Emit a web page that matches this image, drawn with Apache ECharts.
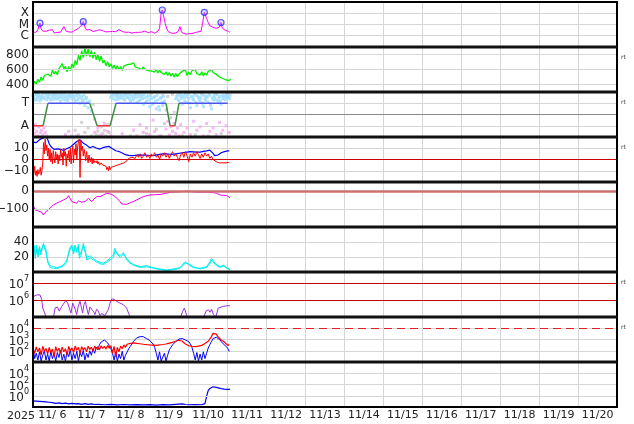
<!DOCTYPE html>
<html><head><meta charset="utf-8">
<script src="https://cdn.jsdelivr.net/npm/echarts@6/dist/echarts.min.js"></script>
<style>html,body{margin:0;padding:0;background:#fff}#c{width:634px;height:424px}</style>
</head><body><div id="c"></div><script>
// x values: hours since 2025-11-06 00:00 UT; axis spans 15 days
const yearLabel = '2025';
const dayLabels = ['11/ 6','11/ 7','11/ 8','11/ 9','11/10','11/11','11/12','11/13','11/14','11/15','11/16','11/17','11/18','11/19','11/20'];
const xrayTicks = [[1e-4,'X'],[1e-5,'M'],[1e-6,'C']];
const speedTicks = [[800,'800'],[600,'600'],[400,'400']];
const sectorTicks = [[1,'T'],[-1,'A']];
const imfTicks = [[10,'10'],[0,'0'],[-10,'\u221210']];
const dstTicks = [[0,'0'],[-100,'\u2212100']];
const p6Ticks = [[40,'40'],[20,'20']];
const p7Exps = [7,6];
const p8Exps = [4,3,2];
const p9Exps = [4,2,0];

// Panel 1: X-ray flux [hour, W/m2]
const xray = [[0,2.0e-6],[1,2.4e-6],[2,2.1e-6],[3,3.5e-6],[3.8,8e-6],[4.3,1.3e-5],[5,4e-6],[6,2.6e-6],[7,3.8e-6],[8,2.5e-6],[9,2.2e-6],[10,3.2e-6],[11,2.6e-6],[12,3.4e-6],[13,1.8e-6],[14,2.3e-6],[15,2.0e-6],[16,2.4e-6],[17,2.1e-6],[18,3.0e-6],[19,6.5e-6],[19.7,7.4e-6],[20.5,2.5e-6],[22,2.2e-6],[23,2.6e-6],[24,2.1e-6],[25,2.9e-6],[26,3.2e-6],[27,3.8e-6],[28,4.5e-6],[29,6.5e-6],[30,9e-6],[31,1.8e-5],[32,6e-6],[33,3.2e-6],[34,4.5e-6],[35,3.6e-6],[36,2.6e-6],[37,2.4e-6],[38,3.3e-6],[39,2.8e-6],[40,3.1e-6],[41,3.4e-6],[42,2.5e-6],[43,2.8e-6],[44,2.3e-6],[45,2.2e-6],[46,2.7e-6],[47,2.3e-6],[48,2.5e-6],[49,2.4e-6],[50,2.8e-6],[51,2.3e-6],[52,3.2e-6],[53,3.5e-6],[54,2.6e-6],[55,2.4e-6],[56,2.2e-6],[57,2.0e-6],[58,2.5e-6],[59,2.1e-6],[60,1.9e-6],[61,1.7e-6],[62,1.6e-6],[63,2.0e-6],[64,2.3e-6],[65,2.0e-6],[66,2.4e-6],[67,2.1e-6],[68,2.0e-6],[69,2.6e-6],[70,2.2e-6],[71,1.9e-6],[72,2.1e-6],[73,2.3e-6],[74,1.8e-6],[75,1.7e-6],[76,1.6e-6],[77,2.5e-6],[78,4.5e-6],[79,1.0e-4],[79.7,1.95e-4],[80.5,6e-5],[81.5,1.2e-5],[82.5,4e-6],[83.5,2.2e-6],[85,1.8e-6],[86.5,1.6e-6],[88,1.8e-6],[89.5,2.4e-6],[90.6,6.5e-6],[91.6,2.0e-6],[93,1.6e-6],[94.7,1.4e-6],[96,1.5e-6],[98,1.6e-6],[100,1.9e-6],[102,2.3e-6],[103.5,2.4e-6],[104.5,1.2e-5],[105.6,1.2e-4],[107,3.5e-5],[108,1.5e-5],[109,8e-6],[110,6.5e-6],[111,5.5e-6],[112,5e-6],[113,4.5e-6],[114,4.2e-6],[115,6e-6],[115.9,1.5e-5],[116.6,5e-6],[117.3,4.6e-6],[118.5,3e-6],[119.4,2.3e-6],[120.5,2.5e-6],[121.4,2.0e-6]];
const flares = [[4.3,1.3e-5],[31,1.8e-5],[79.7,1.95e-4],[105.6,1.2e-4],[115.9,1.5e-5]];

// Panel 2: solar wind speed, hourly from hour 0
const speed = [390,440,410,470,430,500,455,520,500,540,545,510,595,540,575,530,610,590,680,610,640,570,640,585,675,625,720,665,790,720,850,760,880,780,870,770,850,750,830,730,800,710,780,690,720,650,705,635,675,615,660,605,650,595,640,585,645,625,665,650,670,660,690,635,655,620,640,600,635,600,615,585,610,580,600,565,600,555,590,560,575,535,570,520,560,510,550,500,545,505,540,525,575,560,595,520,565,530,585,570,600,545,560,525,570,515,555,525,575,560,600,560,575,535,545,500,520,480,500,460,480,455,475];

// Panel 3: IMF sector (T=+1, A=-1)
const sectorLine = [[0,-1],[6.2,-1],[9.2,1],[35,1],[39.5,-1],[47.5,-1],[51.2,1],[82,1],[84.5,-1],[87.5,-1],[90,1],[120,1]];
const sectorT = [[0.5,1.6],[1.2,1.3],[2,1.8],[2.8,1.5],[3.5,1.7],[4.3,1.2],[5,1.6],[6,1.9],[7,1.4],[8,1.7],[9,1.5],[10,1.8],[11,1.3],[12,1.6],[13,1.9],[14,1.4],[15,1.7],[16,1.5],[17,1.2],[18,1.8],[19,1.6],[20,1.3],[21,1.7],[22,1.5],[23,1.9],[24,1.4],[25,1.6],[26,1.2],[27,1.8],[28,1.5],[29,1.0],[30,1.6],[31,1.3],[32,0.8],[33,1.5],[34,0.6],[35,1.2],[36,0.3],[48,1.5],[50,1.7],[51,1.3],[52,1.8],[53,1.5],[54,1.6],[55,1.9],[56,1.4],[57,1.7],[58,1.5],[59,1.8],[60,1.2],[61,1.6],[62,1.4],[63,1.8],[64,1.1],[65,1.6],[66,1.3],[67,1.7],[68,0.9],[69,1.5],[70,1.2],[71,1.7],[72,0.7],[73,1.4],[74,1.0],[75,1.6],[76,0.5],[77,1.3],[78,0.4],[79,1.5],[80,0.8],[81,1.2],[88,1.4],[89,1.7],[90,1.2],[91,1.6],[92,0.9],[93,1.5],[94,1.8],[95,1.1],[96,1.4],[97,0.6],[98,1.6],[99,1.3],[100,1.7],[101,0.8],[102,1.5],[103,1.2],[104,1.8],[105,0.7],[106,1.4],[107,1.6],[108,1.1],[109,1.7],[110,0.5],[111,1.3],[112,1.5],[113,1.8],[114,1.2],[115,1.6],[116,0.9],[117,1.4],[118,1.7],[119,1.5],[120,1.6],[121,1.4]];
const sectorT2 = [[0.8,1.4],[1.6,1.75],[2.4,1.3],[3.2,1.85],[4,1.55],[4.8,1.35],[5.6,1.75],[6.5,1.5],[7.5,1.85],[8.5,1.3],[9.5,1.65],[10.5,1.45],[11.5,1.8],[12.5,1.35],[13.5,1.6],[14.5,1.85],[15.5,1.4],[16.5,1.7],[17.5,1.55],[18.5,1.35],[19.5,1.85],[20.5,1.5],[21.5,1.25],[22.5,1.7],[23.5,1.6],[24.5,1.85],[25.5,1.4],[26.5,1.65],[27.5,1.3],[28.5,1.75],[29.5,1.45],[30.5,1.2],[31.5,1.7],[32.5,1.4],[33.5,1.1],[48.5,1.7],[49.5,1.4],[50.5,1.85],[51.5,1.6],[52.5,1.35],[53.5,1.8],[54.5,1.45],[55.5,1.7],[56.5,1.3],[57.5,1.85],[58.5,1.55],[59.5,1.4],[60.5,1.75],[61.5,1.3],[62.5,1.65],[63.5,1.5],[64.5,1.85],[65.5,1.25],[66.5,1.6],[67.5,1.4],[68.5,1.75],[69.5,1.05],[70.5,1.55],[71.5,1.3],[72.5,1.65],[73.5,0.9],[74.5,1.5],[75.5,1.2],[76.5,1.7],[77.5,0.7],[78.5,1.45],[79.5,1.1],[80.5,1.6],[88.5,1.6],[89.5,1.3],[90.5,1.8],[91.5,1.45],[92.5,1.7],[93.5,1.2],[94.5,1.55],[95.5,1.75],[96.5,1.0],[97.5,1.6],[98.5,1.4],[99.5,1.85],[100.5,1.1],[101.5,1.65],[102.5,1.35],[103.5,1.5],[104.5,1.0],[105.5,1.7],[106.5,1.25],[107.5,1.55],[108.5,1.8],[109.5,0.8],[110.5,1.45],[111.5,1.65],[112.5,1.3],[113.5,1.75],[114.5,1.45],[115.5,1.2],[116.5,1.7],[117.5,1.55],[118.5,1.3],[119.5,1.8],[120.5,1.5],[121.5,1.7]];
const sectorA = [[0.3,-1.3],[1,-1.7],[1.5,-0.9],[2.2,-1.5],[3,-1.9],[3.6,-1.1],[4.5,-1.6],[5.2,-1.4],[6,-1.8],[6.8,-1.2],[7.5,-1.6],[8.2,-1.9],[20,-1.8],[22,-1.5],[27,-1.9],[38,-1.6],[40,-1.2],[42,-1.8],[44,-0.8],[46,-1.5],[48,-1.9],[55,-1.7],[62,-1.4],[64,-1.9],[66,-0.9],[68,-1.6],[70,-1.2],[72,-1.8],[74,-0.5],[75,-1.5],[78,-1.9],[82,-1.3],[83,-0.6],[84,-1.8],[85,-1.1],[86,-1.5],[87,-0.8],[88,-1.7],[89,-1.2],[90,-1.9],[91,-0.9],[93,-1.6],[95,-1.2],[97,-1.8],[99,-0.6],[101,-1.4],[103,-1.1],[105,-1.9],[107,-0.8],[109,-1.5],[111,-1.2],[113,-1.8],[115,-0.7],[117,-1.4],[119,-1.0],[121,-1.6]];
const sectorX = [[0,1.7],[2.5,1.9],[5.5,1.5],[9.5,1.9],[13,1.8],[17,1.9],[24,-1.9],[26,-1.4],[28,-1.8],[30,-0.7],[32,-1.6],[34,-1.2],[36,-1.9],[37,0.9],[38,-0.4],[39,-1.8],[40,-1.5],[41,-1.9],[42,-1.1],[43,-1.7],[44,-1.4],[45,-1.9],[46,-0.9],[47,-1.6],[49,1.9],[52,1.7],[57,1.9],[60,-1.9],[63,1.8],[66,1.9],[70,-1.7],[73,1.9],[76,-1.3],[79,-1.9],[80,1.7],[81,-0.8],[82,0.4],[83,1.6],[85,-0.3],[86,1.8],[87,0.2],[92,-1.9],[96,1.9],[100,-1.8],[104,1.9],[108,-1.9],[112,1.9],[116,-1.7],[120,1.8]];

// Panel 4: IMF Bt (hourly) and Bz [hour, nT]
const bt = [15.5,16.5,15,16,17.5,16.8,19,18,20,18,14,11.5,10,9,10.5,9.5,8.5,9,7.8,8,9,9.8,10.2,11,12.5,13.5,15,16,16.8,17.5,18.5,14.5,13.5,12.8,11.5,10.5,11,11.6,10.8,10.2,9.6,9.2,9.8,10.5,10.8,11.2,11,11.6,10.5,9.5,8.6,7.8,7.4,7.1,6.6,5.8,5,4.3,4,3.7,3.5,3.4,3.5,3.6,3.8,4.1,4,3.9,4.2,4,3.9,3.7,3.5,3.4,3.3,3.6,4,4.3,4.6,4.8,5,5.2,5.1,4.9,4.7,4.5,4.6,4.8,5,5.3,5.5,5.8,6,6.2,6.4,6.6,6.8,7,7,6.8,6.6,6.5,6.4,6.6,6.9,7.2,7.5,7.7,8,8.4,7,5.5,3.5,2.5,4,5.5,6,6.4,7,7.5,7.6,7.7];
const bz = [[0,-8],[0.5,-12],[1,-6],[1.5,-14],[2,-10],[2.5,-15],[3,-9],[3.5,-13],[4,-11],[4.5,-7],[5,-14],[5.5,-10],[6,-3],[6.5,15],[7,5],[7.5,18],[8,8],[8.5,13],[9,3],[9.5,10],[10,0],[10.5,9],[11,-2],[11.5,6],[12,-4],[12.5,8],[13,2],[13.5,-3],[14,7],[14.5,0],[15,5],[15.5,-4],[16,4],[16.5,-1],[17,9],[17.5,2],[18,6],[18.5,-5],[19,10],[19.5,3],[20,7],[20.5,-6],[21,5],[21.5,1],[22,8],[22.5,-2],[23,10],[23.5,-4],[24,6],[24.5,12],[25,-3],[25.5,9],[26,4],[26.5,14],[27,0],[27.5,11],[28,16],[28.5,18],[29,-16],[29.5,17],[30,8],[30.5,12],[31,3],[31.5,9],[32,5],[32.5,-1],[33,7],[33.5,2],[34,-3],[34.5,4],[35,0],[35.5,-2],[36,2],[36.5,-4],[37,1],[37.5,-3],[38,-1],[38.5,0],[39,-3],[39.5,-1],[40,-4],[40.5,-2],[41,-5],[42,-3],[43,-5],[44,-4],[45,-6],[45.5,-9],[46,-7],[46.5,-10],[47,-6],[47.5,-9],[48,-7],[49,-8],[50,-6],[51,-7],[52,-5],[53,-6],[54,-4],[55,-5],[56,-3],[57,-2],[58,-1],[59,1],[60,0],[61,2],[62,3],[63,1],[64,4],[65,2],[66,5],[67,1],[68,3],[69,6],[70,2],[71,4],[72,1],[73,5],[74,3],[75,6],[76,2],[77,4],[78,0],[79,5],[80,3],[81,6],[82,2],[83,5],[84,1],[85,4],[86,7],[87,3],[88,5],[89,2],[90,-1],[91,4],[92,6],[93,2],[94,7],[95,3],[96,-2],[97,5],[98,2],[99,6],[100,3],[101,7],[102,4],[103,1],[104,5],[105,2],[106,6],[107,3],[108,5],[109,1],[110,3],[111,0],[112,-1],[113,-2],[114,-1],[115,-3],[116,-2],[117,-3],[118,-2],[119,-3],[120,-2],[121,-2.5]];

// Panel 5: Dst [hour, nT]
const dst = [[0.2,-78],[1.2,-105],[2.2,-100],[3.3,-111],[4.3,-100],[5.3,-118],[6.4,-133],[7.4,-120],[8.4,-111],[10.5,-95],[12.5,-78],[14.5,-68],[16.6,-59],[18.7,-50],[20.8,-41],[21.8,-26],[22.8,-40],[23.9,-59],[25,-62],[26.9,-68],[28,-55],[29,-50],[30,-62],[32.1,-59],[33,-48],[34.1,-41],[35,-52],[36.2,-59],[37.5,-45],[39.3,-31],[41.3,-31],[43.4,-22],[45.4,-13],[47,-15],[48.5,-19],[50.5,-31],[52,-42],[53.6,-59],[54.6,-72],[55.7,-81],[57.8,-74],[59.8,-66],[61.8,-59],[64.9,-45],[68,-31],[72.1,-22],[75,-21],[78.3,-19],[81.4,-14],[84.5,-7],[87.5,-6],[90.6,-4],[92.7,-2],[94.7,0],[96.7,-2],[98.8,-4],[100.9,-6],[102.9,-7],[106,-6],[109.1,-7],[111.2,-9],[113.2,-13],[115.3,-22],[117.3,-24],[119.4,-26],[120.4,-30],[121.4,-37]];

// Panel 6: two cyan traces
const cyanA = [[0.2,20.4],[0.8,31.6],[1.4,18.2],[2.3,36],[3.1,24.9],[3.9,31.6],[4.7,22.7],[5.5,29.3],[6.4,38.2],[7.2,40.4],[8,29.3],[8.8,18.2],[9.5,11.6],[10.5,8.4],[12.5,7.1],[14.6,5.8],[16.6,7.1],[18.7,9.3],[20.8,16],[21.8,22.7],[22.8,29.3],[23.8,33.8],[24.9,27],[25.9,36],[26.9,29.3],[27.9,33.8],[28.6,18.2],[29.6,22.7],[31,38.2],[32.1,29.3],[33.1,19.1],[35.1,21.8],[37.2,18.2],[39.2,14.7],[41.3,12.9],[43.4,11.6],[45.4,14.7],[47.5,18.2],[49.5,22.7],[50.5,31.6],[51.6,24.9],[53.6,21.8],[55.7,26.2],[57.7,16],[59.8,11.6],[61.8,10.2],[66,7.1],[70,8.4],[74.2,5.8],[78.3,4],[82.4,2.7],[86.5,4],[90.6,5.8],[93.7,13.8],[95.7,10.2],[98.8,5.8],[102.9,4.9],[107,7.1],[109.1,13.8],[110.1,18.2],[112.2,11.6],[115.3,7.1],[117.3,9.3],[119.4,5.8],[121.4,4]];
const cyanB = [[0.2,24],[0.9,35],[1.6,22],[2.4,30],[3.2,20],[4,34],[4.8,26],[5.6,33],[6.5,36],[7.3,37],[8.1,25],[8.9,15],[9.6,10],[10.6,6],[12.6,5],[14.7,4.5],[16.7,6],[18.8,8],[20.9,13],[21.9,26],[22.9,33],[23.9,36],[25,24],[26,33],[27,26],[28,37],[28.7,22],[29.7,27],[31.1,35],[32.2,26],[33.2,16],[35.2,19],[37.3,16],[39.3,13],[41.4,11],[43.5,10],[45.5,13],[47.6,16],[49.6,20],[50.6,28],[51.7,27],[53.7,19],[55.8,24],[57.8,18],[59.9,13],[61.9,9],[66.1,6],[70.1,7],[74.3,5],[78.4,3],[82.5,2],[86.6,3],[90.7,5],[93.8,12],[95.8,11],[98.9,7],[103,4],[107.1,6],[109.2,12],[110.2,16],[112.3,10],[115.4,6],[117.4,8],[119.5,5],[121.5,3]];

// Panel 7: purple flux [hour, value]; null = no data
const p7 = [[0.2,1.6e6],[1.2,1.5e6],[2.3,2.0e6],[3.3,1.8e6],[4.3,2.0e6],[5.3,1.1e6],[6,3.4e5],[7,4.2e5],[8,1.05e5],[9.5,8e4],[11,null],[12.5,8e4],[13.6,3.4e5],[15,3.9e5],[16.2,2.2e5],[17.7,4.2e5],[19.1,6.6e5],[20.3,9.5e5],[21.4,6.6e5],[22.4,3.4e5],[23.4,1.7e5],[24.5,6.6e5],[25.3,8.4e5],[26.1,2.7e5],[26.9,1.4e5],[27.9,4.2e5],[29,8.4e5],[29.8,6.6e5],[30.6,1.7e5],[31.4,5.3e5],[32.3,8.4e5],[33.1,3.4e5],[34.1,1.4e5],[35.1,3.9e5],[36.2,4.2e5],[37.2,2.2e5],[38.2,1.4e5],[39.2,2.9e5],[40.3,2.2e5],[41.3,1.2e5],[42.3,1.6e5],[43.4,1.9e5],[44.4,1.2e5],[45.4,1.4e5],[46.4,2.7e5],[47.5,6.6e5],[48.5,1.15e6],[49.9,1.1e6],[51.6,8.4e5],[53.6,6.6e5],[55.7,5.3e5],[57.7,3.4e5],[58.9,1.7e5],[60.2,8e4],[70,null],[90.6,8e4],[92.3,2.2e5],[93.3,3.4e5],[94.3,1.7e5],[95.3,8e4],[100,null],[105,8e4],[106.6,2.2e5],[108.1,2.7e5],[109.1,1.9e5],[110.1,2.9e5],[111.2,1.4e5],[112.8,1.05e5],[114.2,3.4e5],[115.3,4.2e5],[117.3,4.2e5],[119.4,4.6e5],[121.4,4.6e5]];

// Panel 8: blue and red flux, hourly from hour 0
const p8Blue = [300,20,60,15,80,12,40,100,15,50,12,90,20,60,12,70,25,110,15,50,12,80,30,120,15,60,20,90,12,70,30,110,15,60,25,100,40,150,60,200,120,350,600,800,900,700,500,300,150,60,15,80,12,50,20,90,15,40,40,150,250,400,700,1000,1400,1700,1800,1900,1800,1500,1200,1000,800,600,400,200,60,15,80,12,15,60,12,40,120,200,330,450,650,900,1100,1300,1200,1100,900,800,650,400,200,60,15,70,12,50,15,80,20,60,170,350,650,1200,1800,1600,1300,1000,650,450,330,250,170,85];
const p8Red = [150,60,220,80,180,40,250,90,160,50,200,70,140,30,230,90,170,60,210,80,150,40,240,100,180,70,260,110,200,60,230,120,190,80,250,130,210,90,260,150,230,120,280,160,250,140,300,170,280,60,250,30,200,80,260,150,330,200,380,260,450,320,500,380,450,350,420,330,380,300,350,280,330,270,320,260,300,270,330,290,360,320,400,380,480,450,560,520,700,650,850,800,700,500,400,300,280,230,250,200,230,180,260,220,300,350,450,500,700,1000,1800,3500,2500,3000,1800,1400,900,1000,600,450,300,350];

// Panel 9: blue flux [hour, value]
const p9 = [[0,0.12],[1,0.08],[2,0.11],[3,0.07],[4,0.1],[5,0.06],[6,0.09],[7,0.06],[8,0.08],[9,0.05],[10,0.07],[11,0.05],[12,0.06],[14,0.045],[16,0.055],[18,0.04],[20,0.05],[22,0.035],[24,0.045],[26,0.035],[28,0.04],[30,0.03],[32,0.04],[34,0.03],[36,0.035],[38,0.028],[40,0.03],[44,0.025],[48,0.03],[52,0.024],[56,0.028],[60,0.023],[64,0.027],[68,0.023],[72,0.026],[76,0.022],[80,0.027],[84,0.023],[88,0.03],[92,0.035],[94,0.028],[96,0.025],[100,0.027],[104,0.025],[105,0.025],[106,0.04],[107,0.8],[108,8],[109,20],[110,30],[111,40],[112,38],[113,30],[114,25],[116,18],[118,15],[120,14],[121.5,14]];

const FONT = 'DejaVu Sans';
const GRIDC = '#d6d6d6';
const TOPS = [2,47,92,137,182,227,272,317,362];
const PH = 45;

function hourly(arr){ return arr.map((v,i)=>[i,v]); }
function labFrom(list){ return v => { const f = list.find(p=>Math.abs(p[0]-v)<1e-9); return f?f[1]:''; }; }
function logLabFrom(list){ return v => { const e=Math.log10(v); const f = list.find(p=>Math.abs(Math.log10(p[0])-e)<1e-6); return f?f[1]:''; }; }
function expLab(exps){ return v => { const e=Math.log10(v); const r=Math.round(e); if (Math.abs(e-r)>1e-6 || exps.indexOf(r)<0) return ''; return '{b|10}{s|'+r+'}'; }; }
const richSup = { b:{fontSize:12, fontFamily:FONT, color:'#222', lineHeight:16, verticalAlign:'bottom'}, s:{fontSize:8, fontFamily:FONT, color:'#222', lineHeight:8, verticalAlign:'top'} };

const grids=[], xAxes=[], yAxes=[];
for (let i=0;i<9;i++){
  grids.push({left:33, width:584, top:TOPS[i], height:PH, show:false, outerBoundsMode:'none', containLabel:false});
  xAxes.push({gridIndex:i, type:'value', min:0, max:360, interval:24, position:'bottom',
    axisLine:{show:false}, axisTick:{show:false}, axisLabel:{show:false},
    splitLine:{show:true, lineStyle:{color:GRIDC, width:1}}});
}
xAxes.push({gridIndex:8, type:'category', data:dayLabels, boundaryGap:true, position:'bottom',
  axisLine:{show:false}, axisTick:{show:false}, splitLine:{show:false},
  axisLabel:{interval:0, color:'#222', fontSize:11, fontFamily:FONT, margin:3}});

function yAx(i, o, lab){
  return Object.assign({gridIndex:i, type:'value', axisLine:{show:false}, axisTick:{show:false},
    splitLine:{show:true, lineStyle:{color:GRIDC, width:1}},
    axisLabel:Object.assign({color:'#222', fontSize:11, fontFamily:FONT, margin:4}, lab)}, o);
}
const noSplit = {show:false};
yAxes.push(yAx(0,{type:'log', min:1e-7, max:1e-3, logBase:10},{formatter:logLabFrom(xrayTicks), fontSize:12}));
yAxes.push(yAx(1,{min:300, max:900, interval:100, splitLine:noSplit},{formatter:labFrom(speedTicks), fontSize:12}));
yAxes.push(yAx(2,{min:-2, max:2, interval:1},{formatter:labFrom(sectorTicks), fontSize:12}));
yAxes.push(yAx(3,{min:-20, max:20, interval:10},{formatter:labFrom(imfTicks), fontSize:12}));
yAxes.push(yAx(4,{min:-200, max:50, interval:50, splitLine:noSplit},{formatter:labFrom(dstTicks), fontSize:12}));
yAxes.push(yAx(5,{min:0, max:60, interval:20},{formatter:labFrom(p6Ticks), fontSize:12}));
yAxes.push(yAx(6,{type:'log', min:1e5, max:4.5e7, logBase:10, splitLine:noSplit},{formatter:expLab(p7Exps), rich:richSup}));
yAxes.push(yAx(7,{type:'log', min:1e1, max:1e5, logBase:10},{formatter:expLab(p8Exps), rich:richSup}));
yAxes.push(yAx(8,{type:'log', min:1e-2, max:1e6, logBase:10, splitLine:noSplit},{formatter:expLab(p9Exps), rich:richSup}));

const series=[];
function line(ix, data, color, w, z){
  const s = {type:'line', xAxisIndex:ix, yAxisIndex:ix, data:data, showSymbol:false, symbol:'none',
    lineStyle:{color:color, width:w}, itemStyle:{color:color}, z:z||2, silent:true, animation:false, connectNulls:false};
  series.push(s); return s;
}
function hline(ix, value, color, width, type, z){
  series.push({type:'line', xAxisIndex:ix, yAxisIndex:ix, data:[], z:z||3, silent:true,
    markLine:{silent:true, symbol:'none', animation:false, label:{show:false},
      lineStyle:{color:color, width:width, type:type||'solid'}, data:[{yAxis:value}]}});
}
function dots(ix, data, color, size, z){
  series.push({type:'scatter', xAxisIndex:ix, yAxisIndex:ix, data:data, symbol:'rect', symbolSize:size,
    itemStyle:{color:color}, z:z||2, silent:true, animation:false});
}

// panel 1
line(0, xray, '#ff00ff', 1, 2);
series.push({type:'scatter', xAxisIndex:0, yAxisIndex:0, data:flares, symbol:'circle', symbolSize:6,
  itemStyle:{color:'rgba(140,140,255,0.35)', borderColor:'#2a2aff', borderWidth:1.2}, z:4, silent:true, animation:false});
// panel 2
speedTicks.forEach(t=>hline(1, t[0], GRIDC, 1, 'solid', 1));
line(1, hourly(speed), '#00ee00', 1.3, 2);
// panel 3
dots(2, sectorX, '#c8c8c8', 3, 1);
dots(2, sectorA, '#f5aaf0', 3, 2);
dots(2, sectorT, '#9edcff', 3, 2);
dots(2, sectorT2, '#9edcff', 3, 2);
hline(2, 0, '#8a8a8a', 1);
for (let k=0;k<sectorLine.length-1;k++){
  const a=sectorLine[k], b=sectorLine[k+1];
  const col = (a[1]===b[1]) ? (a[1]>0 ? '#4a55ee' : '#ee3a3a') : '#3f8f3f';
  line(2, [a,b], col, 1.5, 5);
}
// panel 4
line(3, hourly(bt), '#0000ff', 1.2, 2);
line(3, bz, '#ff0000', 1, 3);
hline(3, 0, '#cc0000', 1);
// panel 5
hline(4, -100, GRIDC, 1, 'solid', 1);
hline(4, 0, '#cc7070', 2.5);
line(4, dst, '#ee00ee', 1, 3);
// panel 6
line(5, cyanB, '#00eeee', 1, 2);
line(5, cyanA, '#00eeee', 1, 2);
// panel 7
hline(6, 1e7, '#cc0000', 1);
hline(6, 1e6, '#cc0000', 1);
line(6, p7, '#a030d8', 1, 3);
// panel 8
hline(7, 1e4, '#dd2222', 1.2, [8,5]);
line(7, hourly(p8Blue), '#0000ff', 1, 2);
line(7, hourly(p8Red), '#ff0000', 1.2, 3);
// panel 9
p9Exps.forEach(e=>hline(8, Math.pow(10,e), GRIDC, 1, 'solid', 1));
line(8, p9, '#0000ee', 1.2, 2);

const graphic = [];
graphic.push({type:'rect', z:100, silent:true, shape:{x:33, y:2, width:584, height:405}, style:{fill:'none', stroke:'#000', lineWidth:2}});
for (let i=1;i<9;i++){
  graphic.push({type:'rect', z:100, silent:true, shape:{x:33, y:TOPS[i]-1.5, width:584, height:3}, style:{fill:'#111'}});
}
graphic.push({type:'text', z:100, silent:true, x:7, y:416, style:{text:yearLabel, fill:'#222', font:'11px "DejaVu Sans"', textVerticalAlign:'middle'}});
[1,2,3,6,7].forEach(i=>{
  graphic.push({type:'text', z:100, silent:true, x:621, y:TOPS[i]+10, style:{text:'rt', fill:'#444', font:'6px "DejaVu Sans"', textVerticalAlign:'middle'}});
});

const chart = echarts.init(document.getElementById('c'), null, {renderer:'canvas'});
chart.setOption({animation:false, backgroundColor:'#fff', grid:grids, xAxis:xAxes, yAxis:yAxes, series:series, graphic:graphic});
</script></body></html>
